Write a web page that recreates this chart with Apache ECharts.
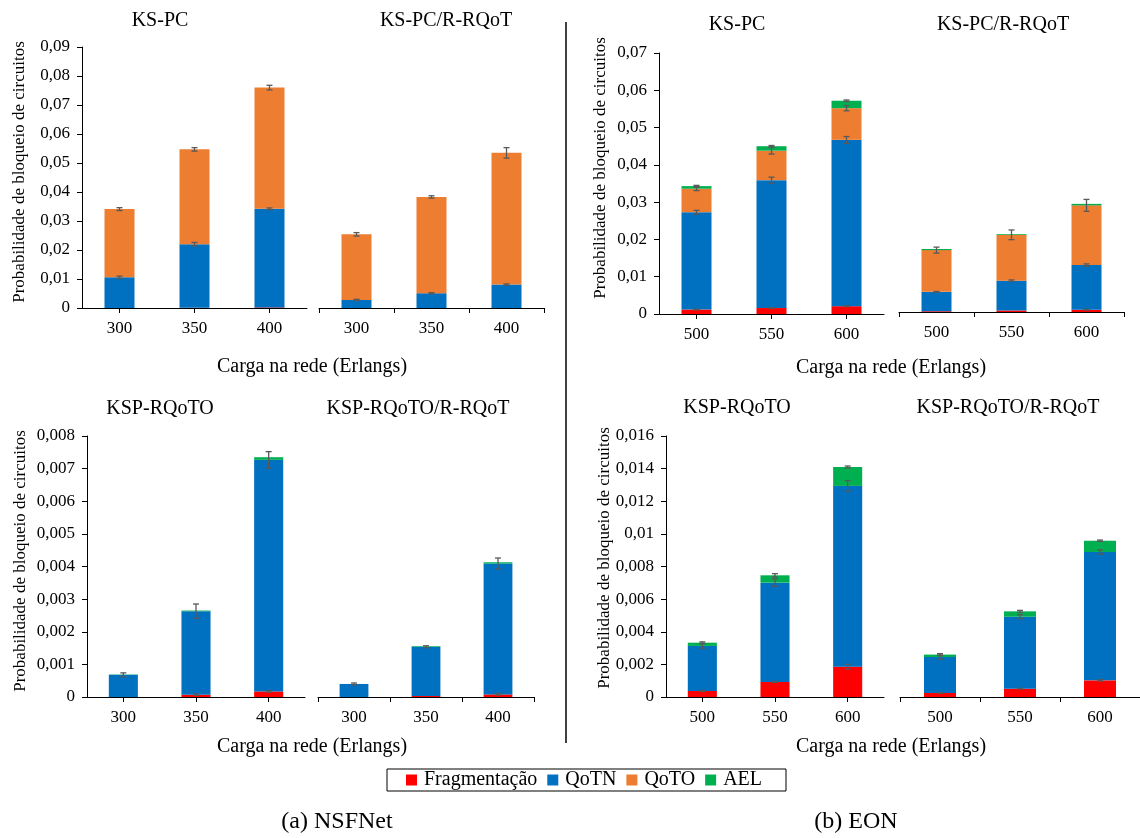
<!DOCTYPE html>
<html>
<head>
<meta charset="utf-8">
<script src="https://cdn.jsdelivr.net/npm/echarts@6/dist/echarts.min.js"></script>
<style>
  html, body { margin: 0; padding: 0; background: #fff; }
  #chart { width: 1140px; height: 838px; }
</style>
</head>
<body>
<div id="chart"></div>
<script>
// cargas (Erlangs)
var nsfLoads = ['300', '350', '400'];
var eonLoads = ['500', '550', '600'];

// cada array: 3 valores do grupo da esquerda + 3 do grupo da direita
// NSFNet - KS-PC | KS-PC/R-RQoT
var nsfPcFrag = [0, 0.00005, 0.0002, 0, 0, 0];
var nsfPcQotn = [0.0106, 0.02195, 0.0340, 0.0028, 0.0051, 0.0081];
var nsfPcQoto = [0.0235, 0.0327, 0.0418, 0.0226, 0.0332, 0.0454];
var nsfPcAel = [0, 0, 0, 0, 0, 0];
var nsfPcErr = [
  [0, 0, 0, 0, 0, 0],
  [0.0004, 0.0006, 0.0003, 0.0002, 0.0002, 0.0002],
  [0.0005, 0.0006, 0.0008, 0.0006, 0.0004, 0.0018],
  [0, 0, 0, 0, 0, 0]
];

// EON - KS-PC | KS-PC/R-RQoT
var eonPcFrag = [0.0012, 0.0016, 0.0021, 0.0002, 0.0004, 0.0006];
var eonPcQotn = [0.0261, 0.0343, 0.0446, 0.0052, 0.0080, 0.0120];
var eonPcQoto = [0.0063, 0.0079, 0.0085, 0.0112, 0.0123, 0.0160];
var eonPcAel = [0.0007, 0.0012, 0.0020, 0.0003, 0.0002, 0.0004];
var eonPcErr = [
  [0.0001, 0.0001, 0.0001, 0, 0, 0.0001],
  [0.0005, 0.0008, 0.0009, 0.0001, 0.0002, 0.0003],
  [0.0005, 0.0009, 0.0007, 0.0008, 0.0013, 0.0016],
  [0.0002, 0.0002, 0.0002, 0, 0, 0]
];

// NSFNet - KSP-RQoTO | KSP-RQoTO/R-RQoT
var nsfRqFrag = [0, 0.00007, 0.00017, 0, 0.00003, 0.00008];
var nsfRqQotn = [0.00068, 0.00256, 0.0071, 0.0004, 0.00151, 0.00401];
var nsfRqQoto = [0, 0, 0, 0, 0, 0];
var nsfRqAel = [0.00001, 0.00002, 0.00008, 0, 0.00002, 0.00004];
var nsfRqErr = [
  [0, 0.00002, 0.00002, 0, 0, 0.00002],
  [0.00006, 0.00022, 0.00025, 0.00003, 0.00003, 0.00017],
  [0, 0, 0, 0, 0, 0],
  [0, 0, 0, 0, 0, 0]
];

// EON - KSP-RQoTO | KSP-RQoTO/R-RQoT
var eonRqFrag = [0.00037, 0.00092, 0.00186, 0.00025, 0.00051, 0.00102];
var eonRqQotn = [0.00276, 0.00609, 0.01108, 0.0022, 0.00441, 0.00787];
var eonRqQoto = [0, 0, 0, 0, 0, 0];
var eonRqAel = [0.0002, 0.00045, 0.00116, 0.00015, 0.00033, 0.00069];
var eonRqErr = [
  [0.00003, 0.00003, 0.00014, 0.00002, 0.00002, 0.00004],
  [0.00015, 0.00023, 0.00033, 0.00012, 0.00012, 0.00013],
  [0, 0, 0, 0, 0, 0],
  [0.00005, 0.0001, 0.00006, 0.00006, 0.00006, 0.00004]
];

var segNames = ['Fragmentação', 'QoTN', 'QoTO', 'AEL'];
var segColors = ['#FF0000', '#0070C0', '#ED7D31', '#00B050'];
var serif = "'Liberation Serif', 'Times New Roman', serif";

// layout: [left, top, width, height] de cada grupo
var panels = [
  { loads: nsfLoads, segs: [nsfPcFrag, nsfPcQotn, nsfPcQoto, nsfPcAel], errs: nsfPcErr,
    max: 0.09, interval: 0.01,
    boxes: [[82, 47, 225, 261], [319, 47, 225, 261]] },
  { loads: eonLoads, segs: [eonPcFrag, eonPcQotn, eonPcQoto, eonPcAel], errs: eonPcErr,
    max: 0.07, interval: 0.01,
    boxes: [[659, 53, 225, 261], [899, 51, 225, 261]] },
  { loads: nsfLoads, segs: [nsfRqFrag, nsfRqQotn, nsfRqQoto, nsfRqAel], errs: nsfRqErr,
    max: 0.008, interval: 0.001,
    boxes: [[87, 436, 218, 261], [318, 436, 216, 261]] },
  { loads: eonLoads, segs: [eonRqFrag, eonRqQotn, eonRqQoto, eonRqAel], errs: eonRqErr,
    max: 0.016, interval: 0.002,
    boxes: [[666, 436, 218, 261], [900, 436, 245, 261]] }
];

function fmt(v) {
  return String(parseFloat(v.toFixed(6))).replace('.', ',');
}

function errRender(params, api) {
  var x = api.value(0);
  var lo = api.coord([x, api.value(1)]);
  var hi = api.coord([x, api.value(2)]);
  var cap = 3;
  var st = { stroke: '#595959', lineWidth: 1.3 };
  return {
    type: 'group',
    children: [
      { type: 'line', shape: { x1: lo[0], y1: lo[1], x2: hi[0], y2: hi[1] }, style: st },
      { type: 'line', shape: { x1: lo[0] - cap, y1: lo[1], x2: lo[0] + cap, y2: lo[1] }, style: st },
      { type: 'line', shape: { x1: hi[0] - cap, y1: hi[1], x2: hi[0] + cap, y2: hi[1] }, style: st }
    ]
  };
}

var grids = [], xAxes = [], yAxes = [], series = [];

panels.forEach(function (p) {
  [0, 1].forEach(function (g) {
    var gi = grids.length;
    var b = p.boxes[g];
    grids.push({ left: b[0], top: b[1], width: b[2], height: b[3], containLabel: false });
    xAxes.push({
      type: 'category', gridIndex: gi, data: p.loads,
      axisLine: { lineStyle: { color: '#000', width: 1 } },
      axisTick: { show: true, alignWithLabel: g === 0, length: 5, lineStyle: { color: '#000' } },
      axisLabel: { fontSize: 17, fontFamily: serif, color: '#000', margin: 12 }
    });
    yAxes.push({
      type: 'value', gridIndex: gi, min: 0, max: p.max, interval: p.interval,
      show: g === 0,
      splitLine: { show: false },
      axisLine: { show: true, lineStyle: { color: '#000', width: 1 } },
      axisTick: { show: true, length: 5, lineStyle: { color: '#000' } },
      axisLabel: { formatter: fmt, fontSize: 17, fontFamily: serif, color: '#000', margin: 12 }
    });
    var tops = [0, 0, 0];
    var errData = [];
    p.segs.forEach(function (arr, si) {
      var vals = arr.slice(g * 3, g * 3 + 3);
      series.push({
        name: segNames[si], type: 'bar', stack: 'st' + gi,
        xAxisIndex: gi, yAxisIndex: gi, barWidth: '40%',
        itemStyle: { color: segColors[si] },
        data: vals
      });
      vals.forEach(function (v, i) {
        tops[i] += v;
        var e = p.errs[si][g * 3 + i];
        if (e > 0) errData.push([i, tops[i] - e, tops[i] + e]);
      });
    });
    series.push({
      type: 'custom', name: 'erro', xAxisIndex: gi, yAxisIndex: gi,
      renderItem: errRender, encode: { x: 0, y: [1, 2] }, z: 10,
      data: errData
    });
  });
});

function txt(t, x, y, size, rot) {
  return {
    type: 'text', x: x, y: y, rotation: rot || 0,
    style: { text: t, fontSize: size, fontFamily: serif, fill: '#000', textAlign: 'center', textVerticalAlign: 'middle' }
  };
}

var yName = 'Probabilidade de bloqueio de circuitos';
var xName = 'Carga na rede (Erlangs)';

var option = {
  animation: false,
  backgroundColor: '#fff',
  grid: grids,
  xAxis: xAxes,
  yAxis: yAxes,
  legend: {
    data: segNames, left: 387, top: 769,
    icon: 'rect', itemWidth: 11, itemHeight: 11, itemGap: 10,
    borderColor: '#000', borderWidth: 1,
    padding: [1, 24, 1, 19],
    textStyle: { fontSize: 20, fontFamily: serif, color: '#000', padding: [0, 0, 0, 2] }
  },
  graphic: [
    txt('KS-PC', 160, 21, 20), txt('KS-PC/R-RQoT', 446, 21, 20),
    txt('KS-PC', 737, 25, 20), txt('KS-PC/R-RQoT', 1003, 25, 20),
    txt('KSP-RQoTO', 160, 409, 20), txt('KSP-RQoTO/R-RQoT', 418, 409, 20),
    txt('KSP-RQoTO', 737, 408, 20), txt('KSP-RQoTO/R-RQoT', 1008, 408, 20),
    txt(xName, 312, 367, 20), txt(xName, 891, 368, 20),
    txt(xName, 312, 747, 20), txt(xName, 891, 747, 20),
    txt(yName, 20, 172, 17, Math.PI / 2), txt(yName, 601, 168, 17, Math.PI / 2),
    txt(yName, 21, 561, 17, Math.PI / 2), txt(yName, 605, 558, 17, Math.PI / 2),
    txt('(a) NSFNet', 337, 822, 24), txt('(b) EON', 856, 822, 24),
    { type: 'line', shape: { x1: 566, y1: 22, x2: 566, y2: 743 }, style: { stroke: '#000', lineWidth: 1.5 } }
  ],
  series: series
};

var myChart = echarts.init(document.getElementById('chart'));
myChart.setOption(option);
</script>
</body>
</html>
